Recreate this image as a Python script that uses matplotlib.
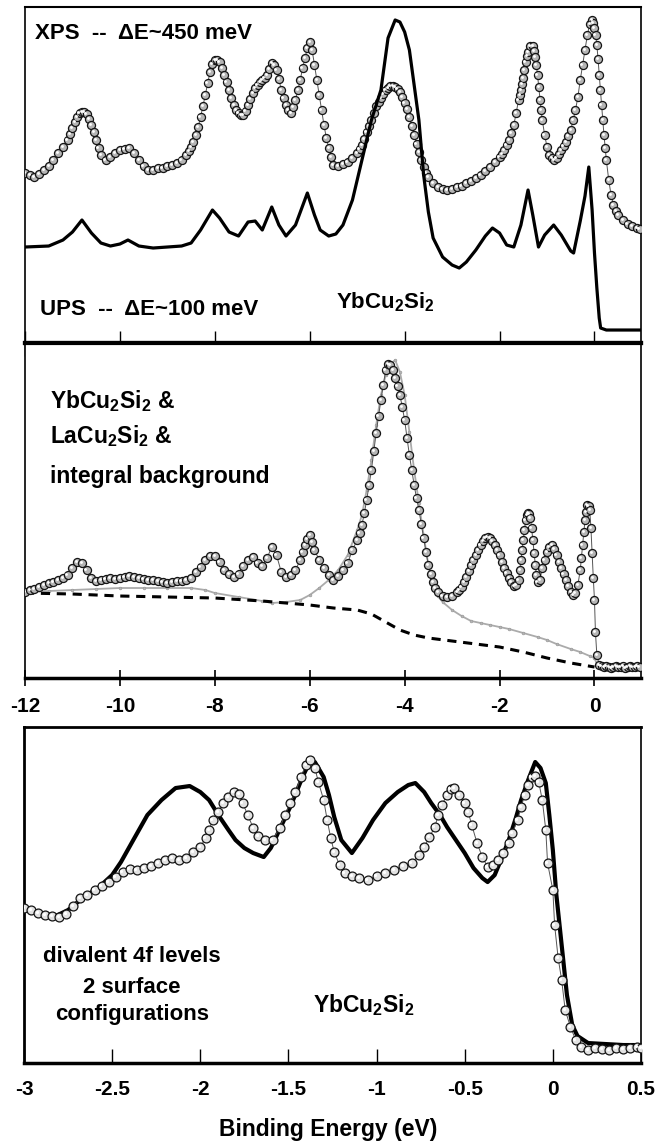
import matplotlib
matplotlib.use("Agg")
import matplotlib.pyplot as plt
from matplotlib import font_manager
from matplotlib.transforms import offset_copy

# ---------------- data (binding energy in eV, intensity in arb. units) ----------------
# XPS, YbCu2Si2 valence band (dots)
xps_E = [-12.0, -11.9, -11.8, -11.7, -11.6, -11.5, -11.4, -11.3, -11.2, -11.1, -11.05, -11.0,
         -10.95, -10.9, -10.85, -10.8, -10.75, -10.7, -10.65, -10.6, -10.55, -10.5, -10.45,
         -10.4, -10.3, -10.2, -10.1, -10.0, -9.9, -9.8, -9.7, -9.6, -9.5, -9.4, -9.3, -9.2,
         -9.1, -9.0, -8.9, -8.8, -8.7, -8.6, -8.55, -8.5, -8.45, -8.4, -8.35, -8.3, -8.25,
         -8.2, -8.15, -8.1, -8.05, -8.0, -7.95, -7.9, -7.85, -7.8, -7.75, -7.7, -7.65, -7.6,
         -7.55, -7.5, -7.45, -7.4, -7.35, -7.3, -7.25, -7.2, -7.15, -7.1, -7.05, -7.0, -6.95,
         -6.9, -6.85, -6.8, -6.75, -6.7, -6.65, -6.6, -6.55, -6.5, -6.45, -6.4, -6.35, -6.3,
         -6.25, -6.2, -6.15, -6.1, -6.05, -6.0, -5.95, -5.9, -5.85, -5.8, -5.75, -5.7, -5.65,
         -5.6, -5.55, -5.5, -5.4, -5.3, -5.2, -5.1, -5.0, -4.95, -4.9, -4.85, -4.8, -4.75,
         -4.7, -4.65, -4.6, -4.55, -4.5, -4.45, -4.4, -4.35, -4.3, -4.25, -4.2, -4.15, -4.1,
         -4.05, -4.0, -3.95, -3.9, -3.85, -3.8, -3.75, -3.7, -3.65, -3.6, -3.55, -3.5, -3.4,
         -3.3, -3.2, -3.1, -3.0, -2.9, -2.8, -2.7, -2.6, -2.5, -2.4, -2.3, -2.2, -2.1, -2.0,
         -1.95, -1.9, -1.85, -1.8, -1.75, -1.7, -1.65, -1.6, -1.575, -1.55, -1.525, -1.5,
         -1.475, -1.45, -1.425, -1.4, -1.35, -1.3, -1.275, -1.25, -1.225, -1.2, -1.175, -1.15,
         -1.125, -1.1, -1.05, -1.0, -0.95, -0.9, -0.85, -0.8, -0.75, -0.7, -0.65, -0.6, -0.55,
         -0.5, -0.45, -0.4, -0.35, -0.3, -0.25, -0.2, -0.15, -0.1, -0.05, -0.025, 0.0, 0.025,
         0.05, 0.075, 0.1, 0.125, 0.15, 0.175, 0.2, 0.225, 0.25, 0.3, 0.35, 0.4, 0.45, 0.5,
         0.6, 0.7, 0.8, 0.9, 0.95]
xps_I = [170, 168, 166, 169, 173, 177, 183, 190, 196, 203, 209, 215,
         221, 226, 230, 231, 231, 229, 224, 218, 211, 203, 195,
         188, 183, 186, 190, 193, 194, 195, 190, 183, 177, 173, 173, 175,
         175, 177, 178, 180, 183, 188, 192, 196, 201, 208, 216, 226, 237,
         248, 260, 271, 279, 283, 283, 281, 275, 268, 261, 253, 245, 238,
         233, 230, 228, 228, 232, 238, 244, 250, 255, 258, 261, 263, 265,
         268, 274, 280, 278, 273, 264, 253, 245, 238, 233, 230, 236, 243,
         253, 263, 275, 285, 295, 301, 293, 278, 263, 248, 233, 218, 205,
         195, 186, 178, 177, 179, 181, 185, 190, 194, 198, 204, 211, 217,
         223, 230, 237, 241, 245, 249, 253, 255, 257, 257, 256, 254, 251,
         246, 240, 234, 226, 217, 208, 199, 191, 183, 176, 170, 166, 160,
         156, 154, 153, 154, 156, 157, 160, 162, 165, 168, 172, 176, 181, 186,
         189, 193, 198, 203, 210, 218, 230, 243, 248, 253, 259, 265,
         273, 281, 287, 291, 297, 297, 292, 286, 278, 268, 256, 243,
         233, 223, 208, 196, 188, 185, 183, 185, 189, 193, 197, 201, 207,
         213, 223, 233, 246, 263, 278, 293, 308, 319, 323, 320, 315, 308,
         298, 284, 268, 253, 238, 223, 208, 195, 183, 163, 148, 138, 132, 128,
         123, 119, 117, 115, 114]

# UPS, YbCu2Si2 valence band (solid line)
ups_E = [-12.0, -11.5, -11.2, -11.0, -10.8, -10.6, -10.4, -10.2, -10.0, -9.83, -9.6, -9.3,
         -9.0, -8.7, -8.5, -8.3, -8.05, -7.9, -7.7, -7.5, -7.3, -7.15, -7.0, -6.8, -6.65,
         -6.5, -6.3, -6.05, -5.9, -5.78, -5.6, -5.45, -5.3, -5.1, -4.9, -4.7, -4.5, -4.35,
         -4.2, -4.1, -4.0, -3.9, -3.8, -3.7, -3.6, -3.5, -3.4, -3.2, -3.0, -2.85, -2.7,
         -2.5, -2.3, -2.15, -2.0, -1.85, -1.7, -1.55, -1.4, -1.3, -1.18, -1.05, -0.86,
         -0.7, -0.5, -0.44, -0.3, -0.2, -0.12, -0.05, 0.0, 0.05, 0.1, 0.13, 0.25, 0.5, 0.95]
ups_I = [96, 97, 103, 111, 123, 110, 100, 97, 99, 103, 97, 95,
         96, 97, 100, 113, 133, 125, 111, 107, 121, 122, 113, 136, 118,
         107, 118, 150, 128, 113, 107, 109, 118, 143, 183, 223, 253, 305,
         323, 321, 311, 293, 258, 223, 168, 131, 105, 86, 78, 75, 81,
         93, 107, 115, 110, 98, 96, 118, 153, 128, 96, 108, 118,
         108, 92, 90, 122, 147, 176, 133, 90, 55, 25, 15, 13, 13, 13]

# YbCu2Si2 (dots), LaCu2Si2 + integral background (grey), integral background (dashed)
yb_E = [-12.0, -11.9, -11.8, -11.7, -11.6, -11.5, -11.4, -11.3, -11.2, -11.1, -11.0, -10.9,
        -10.8, -10.7, -10.6, -10.5, -10.4, -10.3, -10.2, -10.1, -10.0, -9.9, -9.8, -9.7,
        -9.6, -9.5, -9.4, -9.3, -9.2, -9.1, -9.0, -8.9, -8.8, -8.7, -8.6, -8.5, -8.4, -8.3,
        -8.2, -8.1, -8.0, -7.9, -7.8, -7.7, -7.6, -7.5, -7.4, -7.3, -7.2, -7.1, -7.0, -6.9,
        -6.8, -6.7, -6.6, -6.5, -6.4, -6.3, -6.2, -6.15, -6.1, -6.05, -6.0, -5.95, -5.9,
        -5.8, -5.7, -5.6, -5.5, -5.4, -5.3, -5.2, -5.1, -5.0, -4.95, -4.9, -4.85, -4.8,
        -4.75, -4.7, -4.65, -4.6, -4.55, -4.5, -4.45, -4.4, -4.35, -4.3, -4.25, -4.2, -4.15,
        -4.1, -4.05, -4.0, -3.95, -3.9, -3.85, -3.8, -3.75, -3.7, -3.65, -3.6, -3.55, -3.5,
        -3.45, -3.4, -3.35, -3.3, -3.2, -3.1, -3.0, -2.9, -2.85, -2.8, -2.75, -2.7, -2.65,
        -2.6, -2.55, -2.5, -2.45, -2.4, -2.35, -2.3, -2.25, -2.2, -2.15, -2.1, -2.05, -2.0,
        -1.95, -1.9, -1.85, -1.8, -1.75, -1.7, -1.65, -1.6, -1.575, -1.55, -1.525, -1.5,
        -1.475, -1.45, -1.425, -1.4, -1.375, -1.35, -1.325, -1.3, -1.275, -1.25, -1.225,
        -1.2, -1.15, -1.1, -1.05, -1.0, -0.95, -0.9, -0.85, -0.8, -0.75, -0.7, -0.65, -0.6,
        -0.55, -0.5, -0.45, -0.4, -0.35, -0.3, -0.275, -0.25, -0.225, -0.2, -0.175, -0.15,
        -0.125, -0.1, -0.075, -0.05, -0.025, 0.0, 0.02, 0.05, 0.1, 0.15, 0.2, 0.25, 0.3,
        0.35, 0.4, 0.45, 0.5, 0.55, 0.6, 0.65, 0.7, 0.75, 0.8, 0.85, 0.9, 0.95]
yb_I = [86, 88, 89, 91, 93, 95, 96, 98, 100, 103, 110, 116,
        115, 108, 100, 97, 98, 99, 100, 99, 100, 101, 102, 101,
        100, 99, 98, 98, 97, 96, 95, 96, 97, 97, 98, 100, 106, 111,
        118, 122, 122, 116, 108, 104, 101, 104, 112, 118, 121, 115, 112, 120,
        131, 123, 106, 101, 103, 108, 118, 126, 133, 139, 143, 136, 128,
        118, 110, 103, 98, 102, 108, 115, 128, 138, 145, 153, 165, 178,
        193, 208, 227, 245, 262, 278, 293, 308, 314, 313, 308, 300, 292,
        283, 271, 258, 240, 223, 208, 193, 180, 168, 154, 140, 126, 113,
        104, 96, 90, 86, 82, 81, 82, 86, 88, 91, 96, 101, 107,
        113, 118, 123, 128, 133, 137, 140, 141, 140, 137, 133, 128, 123,
        116, 110, 105, 100, 96, 92, 93, 98, 108, 118, 128, 138,
        148, 158, 163, 165, 164, 160, 150, 138, 125, 113, 103,
        96, 98, 110, 118, 126, 131, 133, 129, 123, 116, 110, 104, 98,
        92, 86, 83, 85, 93, 108, 120, 133, 146, 158, 166, 173,
        172, 168, 150, 125, 100, 78, 46, 23, 13, 12, 11, 12, 11,
        10, 11, 12, 11, 11, 12, 10, 11, 12, 11, 11, 12, 11]

la_E = [-12.0, -11.5, -11.0, -10.5, -10.0, -9.5, -9.0, -8.5, -8.2, -8.0, -7.5, -7.0, -6.8,
        -6.5, -6.2, -6.0, -5.8, -5.6, -5.4, -5.2, -5.0, -4.9, -4.8, -4.7, -4.6, -4.5, -4.4,
        -4.3, -4.2, -4.1, -4.0, -3.9, -3.8, -3.7, -3.6, -3.5, -3.4, -3.3, -3.2, -3.0, -2.8,
        -2.6, -2.4, -2.2, -2.0, -1.8, -1.5, -1.2, -1.0, -0.8, -0.5, -0.3, -0.1, 0.0, 0.05, 0.1]
la_I = [86, 87, 88, 89, 90, 90, 90, 90, 88, 85, 81, 77, 75,
        76, 78, 83, 90, 98, 108, 123, 148, 163, 188, 218, 253, 283, 303,
        314, 318, 306, 283, 246, 208, 175, 143, 113, 93, 82, 76, 68, 62,
        57, 55, 53, 51, 49, 45, 41, 38, 34, 29, 26, 22, 20, 14, 11]

bg_E = [-12.0, -11.0, -10.0, -9.0, -8.0, -7.0, -6.0, -5.5, -5.0, -4.7, -4.4, -4.1, -3.8,
        -3.5, -3.0, -2.5, -2.0, -1.5, -1.0, -0.5, 0.0]
bg_I = [85, 84, 82, 81, 80, 77, 73, 70, 68, 64, 56, 48, 43,
        40, 37, 34, 31, 26, 20, 15, 11]

# Yb 4f divalent doublet region: one surface configuration (line), the other (dots)
f4_line_E = [-3.0, -2.9, -2.82, -2.75, -2.66, -2.58, -2.5, -2.45, -2.38, -2.3, -2.22, -2.14,
             -2.06, -2.0, -1.95, -1.89, -1.84, -1.8, -1.75, -1.7, -1.64, -1.6, -1.57, -1.53,
             -1.49, -1.45, -1.42, -1.38, -1.35, -1.3, -1.27, -1.24, -1.2, -1.14, -1.08, -1.02,
             -0.95, -0.88, -0.82, -0.78, -0.73, -0.69, -0.64, -0.6, -0.55, -0.5, -0.45, -0.4,
             -0.37, -0.33, -0.29, -0.25, -0.21, -0.18, -0.14, -0.1, -0.07, -0.04, -0.02, 0.0,
             0.02, 0.05, 0.08, 0.11, 0.14, 0.2, 0.3, 0.4, 0.5]
f4_line_I = [155, 150, 147, 153, 166, 175, 188, 201, 223, 248, 263, 275,
             277, 271, 263, 246, 233, 223, 215, 210, 206, 215, 226, 241,
             256, 273, 286, 301, 301, 286, 268, 246, 223, 210, 225, 243,
             260, 271, 278, 280, 271, 260, 248, 236, 223, 210, 195, 185,
             181, 188, 205, 223, 245, 263, 283, 301, 295, 280, 248, 213,
             168, 118, 68, 38, 27, 20, 19, 18, 18]

f4_dot_E = [-3.0, -2.96, -2.92, -2.88, -2.84, -2.8, -2.76, -2.72, -2.68, -2.64, -2.6, -2.56,
            -2.52, -2.48, -2.44, -2.4, -2.36, -2.32, -2.28, -2.24, -2.2, -2.16, -2.12, -2.08,
            -2.04, -2.0, -1.97, -1.95, -1.93, -1.9, -1.87, -1.84, -1.81, -1.78, -1.76, -1.73,
            -1.7, -1.67, -1.63, -1.59, -1.55, -1.52, -1.49, -1.46, -1.43, -1.4, -1.38, -1.35,
            -1.33, -1.3, -1.28, -1.26, -1.24, -1.21, -1.18, -1.14, -1.1, -1.05, -1.0, -0.95,
            -0.9, -0.85, -0.8, -0.76, -0.73, -0.7, -0.67, -0.65, -0.63, -0.6, -0.58, -0.56,
            -0.53, -0.5, -0.48, -0.46, -0.43, -0.4, -0.37, -0.34, -0.31, -0.28, -0.25, -0.23,
            -0.2, -0.18, -0.16, -0.14, -0.12, -0.1, -0.08, -0.06, -0.04, -0.03, 0.0, 0.01,
            0.03, 0.05, 0.07, 0.1, 0.13, 0.16, 0.2, 0.24, 0.28, 0.32, 0.36, 0.4, 0.44, 0.48, 0.5]
f4_dot_I = [155, 153, 150, 148, 147, 146, 149, 157, 165, 168, 173, 177,
            181, 186, 191, 194, 193, 195, 197, 200, 203, 205, 203, 205,
            211, 216, 225, 233, 243, 251, 260, 266, 271, 269, 260, 248,
            235, 227, 223, 223, 235, 248, 260, 271, 286, 298, 303, 295,
            281, 263, 243, 225, 211, 198, 190, 187, 185, 183, 187, 190,
            193, 197, 200, 208, 216, 226, 236, 248, 258, 268, 274, 275,
            268, 260, 251, 238, 220, 206, 196, 198, 203, 210, 220, 230,
            243, 256, 268, 278, 286, 287, 281, 263, 233, 200, 173, 138,
            105, 83, 53, 36, 23, 16, 13, 15, 14, 13, 15, 14, 15, 16, 15]

wide_ticks = [-12, -10, -8, -6, -4, -2, 0]
wide_labels = ["-12", "-10", "-8", "-6", "-4", "-2", "0"]
narrow_ticks = [-3, -2.5, -2, -1.5, -1, -0.5, 0, 0.5]
narrow_labels = ["-3", "-2.5", "-2", "-1.5", "-1", "-0.5", "0", "0.5"]

# ---------------- style ----------------
installed = {f.name for f in font_manager.fontManager.ttflist}
main_font = "Liberation Sans Narrow" if "Liberation Sans Narrow" in installed else "Liberation Sans"
plt.rcParams["font.family"] = [main_font, "DejaVu Sans"]
plt.rcParams["font.weight"] = "bold"
plt.rcParams["mathtext.default"] = "regular"
plt.rcParams["axes.unicode_minus"] = False

fig = plt.figure(figsize=(6.70, 11.48), dpi=100)
ax_top = fig.add_axes([0.0373, 0.7012, 0.9194, 0.2927])
ax_mid = fig.add_axes([0.0373, 0.4094, 0.9194, 0.2918])
ax_bot = fig.add_axes([0.0358, 0.0740, 0.9209, 0.2927])


def spheres(ax, x, y, ms, face, z=3):
    """Shaded ball markers joined by a thin line."""
    ax.plot(x, y, "-", color="#555555", lw=0.7, zorder=z)
    ax.plot(x, y, "o", ms=ms, mfc=face, mec="#151515", mew=0.9, ls="none", zorder=z + 0.1)
    shine = offset_copy(ax.transData, fig=ax.figure, x=-ms * 0.15, y=ms * 0.15, units="points")
    ax.plot(x, y, "o", ms=ms * 0.35, mfc="white", mec="none", ls="none",
            transform=shine, zorder=z + 0.2)


def frame(ax, left, top, right, bottom):
    for side, w in zip(["left", "top", "right", "bottom"], [left, top, right, bottom]):
        ax.spines[side].set_linewidth(w)
        ax.spines[side].set_color("black")
    ax.set_yticks([])


# ---- top panel: XPS vs UPS ----
spheres(ax_top, xps_E, xps_I, 5.8, "#b5b5b5")
ax_top.plot(ups_E, ups_I, color="black", lw=2.3, zorder=5)
ax_top.set_xlim(-12, 0.98)
ax_top.set_ylim(0, 336)
ax_top.set_xticks(wide_ticks)
ax_top.tick_params(axis="x", direction="inout", length=18, width=1.0, labelbottom=False)
frame(ax_top, 1.2, 1.5, 1.2, 3.0)
ax_top.text(0.016, 0.905, "XPS  --  \u0394E~450 meV", transform=ax_top.transAxes,
            fontsize=16, ha="left", va="baseline")
ax_top.text(0.024, 0.083, "UPS  --  \u0394E~100 meV", transform=ax_top.transAxes,
            fontsize=16, ha="left", va="baseline")
ax_top.text(0.505, 0.104, "YbCu$_2$Si$_2$", transform=ax_top.transAxes,
            fontsize=16, ha="left", va="baseline")

# ---- middle panel: YbCu2Si2 with LaCu2Si2 and integral background ----
ax_mid.plot(la_E, la_I, "-", color="#ababab", lw=1.3, marker="o", ms=2.0,
            mfc="#b5b5b5", mec="#959595", mew=0.4, zorder=2)
ax_mid.plot(bg_E, bg_I, color="black", lw=2.2, ls=(0, (3.0, 2.2)), zorder=2.5)
spheres(ax_mid, yb_E, yb_I, 5.8, "#b5b5b5")
ax_mid.set_xlim(-12, 0.98)
ax_mid.set_ylim(0, 335)
ax_mid.set_xticks(wide_ticks)
ax_mid.set_xticklabels(wide_labels)
ax_mid.tick_params(axis="x", direction="inout", length=12, width=1.2, labelsize=15, pad=8)
frame(ax_mid, 1.2, 3.0, 1.2, 2.5)
for yy, txt in [(0.806, "YbCu$_2$Si$_2$ &"), (0.701, "LaCu$_2$Si$_2$ &"),
                (0.582, "integral background")]:
    ax_mid.text(0.041, yy, txt, transform=ax_mid.transAxes, fontsize=16.5,
                ha="left", va="baseline")

# ---- bottom panel: divalent 4f doublet ----
spheres(ax_bot, f4_dot_E, f4_dot_I, 6.4, "#e2e2e2", z=3)
ax_bot.plot(f4_line_E, f4_line_I, color="black", lw=3.0, zorder=2.5)
ax_bot.set_xlim(-3, 0.5)
ax_bot.set_ylim(0, 336)
ax_bot.set_xticks(narrow_ticks)
ax_bot.set_xticklabels(narrow_labels)
ax_bot.tick_params(axis="x", direction="in", length=10, width=1.0, labelsize=15, pad=12)
frame(ax_bot, 2.0, 2.0, 1.2, 2.5)
for yy, txt in [(0.300, "divalent 4f levels"), (0.208, "2 surface"),
                (0.128, "configurations")]:
    ax_bot.text(0.175, yy, txt, transform=ax_bot.transAxes, fontsize=16,
                ha="center", va="baseline")
ax_bot.text(0.468, 0.152, "YbCu$_2$Si$_2$", transform=ax_bot.transAxes,
            fontsize=16.5, ha="left", va="baseline")

fig.text(0.49, 0.016, "Binding Energy (eV)", fontsize=16.5, ha="center", va="center")

fig.savefig("out.png", dpi=100, facecolor="white")
